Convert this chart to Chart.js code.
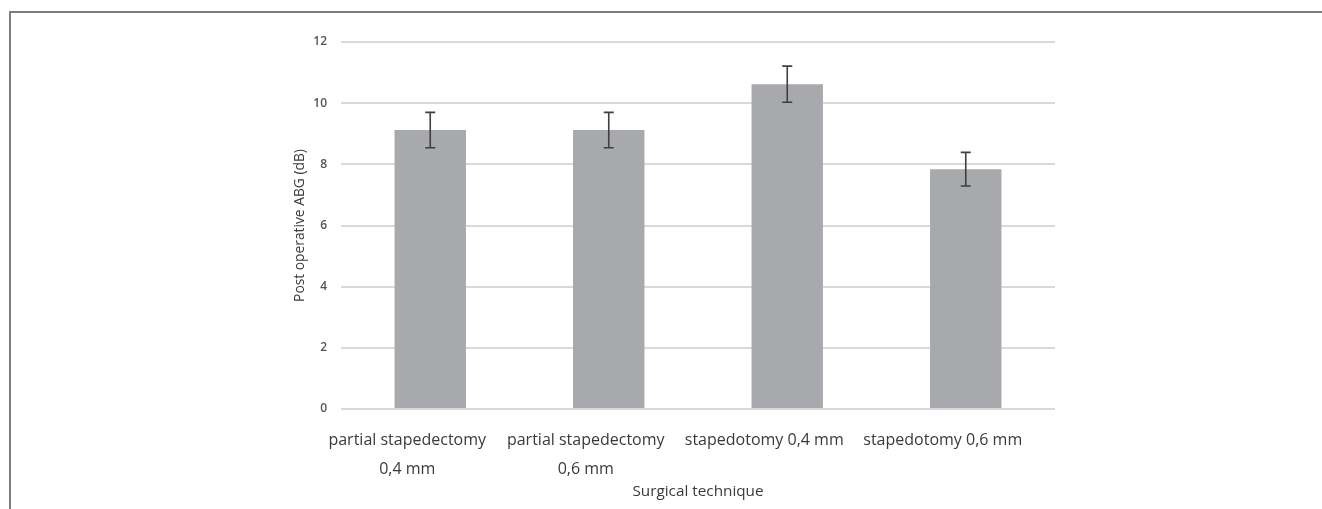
<!DOCTYPE html>
<html>
<head>
<meta charset="utf-8">
<script src="https://cdn.jsdelivr.net/npm/chart.js@4.4.0/dist/chart.umd.min.js"></script>
<style>
  html, body { margin: 0; padding: 0; background: #fff; }
  #wrap { position: relative; width: 1322px; height: 509px; overflow: hidden; }
  #frame { position: absolute; left: 9px; top: 11px; right: -5px; bottom: -5px;
           border-top: 2px solid #7d7d7d; border-left: 2px solid #7d7d7d; }
  canvas { position: absolute; left: 0; top: 0; }
</style>
</head>
<body>
<div id="wrap">
  <div id="frame"></div>
  <canvas id="abg" width="1322" height="509"></canvas>
</div>
<script>
// categorias (eixo x)
var techniques = [
    ['partial stapedectomy', '0,4 mm'],
    ['partial stapedectomy', '0,6 mm'],
    'stapedotomy 0,4 mm',
    'stapedotomy 0,6 mm'
];
// media do ABG pos-operatorio (dB)
var abg_mean = [9.12, 9.12, 10.62, 7.84];
// desvio (barra de erro)
var abg_err = [0.58, 0.58, 0.59, 0.55];
// eixo y
var y_min = 0, y_max = 12, y_step = 2;

// desenha as barras de erro
var errorBars = {
    id: 'errorBars',
    afterDatasetsDraw: function (chart) {
        var ctx = chart.ctx;
        var meta = chart.getDatasetMeta(0);
        var yScale = chart.scales.y;
        ctx.save();
        ctx.strokeStyle = '#3f3f3f';
        ctx.lineWidth = 1.6;
        meta.data.forEach(function (bar, i) {
            var x = bar.x;
            var yTop = yScale.getPixelForValue(abg_mean[i] + abg_err[i]);
            var yBot = yScale.getPixelForValue(abg_mean[i] - abg_err[i]);
            ctx.beginPath();
            ctx.moveTo(x, yTop); ctx.lineTo(x, yBot);
            ctx.moveTo(x - 5, yTop); ctx.lineTo(x + 5, yTop);
            ctx.moveTo(x - 5, yBot); ctx.lineTo(x + 5, yBot);
            ctx.stroke();
        });
        ctx.restore();
    }
};

var rel = new Chart(document.getElementById('abg'), {
    type: 'bar',
    data: {
        labels: techniques,
        datasets: [{
            data: abg_mean,
            backgroundColor: '#a8a9ac',
            borderWidth: 0,
            barPercentage: 0.4,
            categoryPercentage: 1.0
        }]
    },
    options: {
        responsive: false,
        animation: false,
        layout: { padding: { left: 292, right: 267, top: 42, bottom: 8 } },
        plugins: {
            legend: { display: false },
            tooltip: { enabled: false }
        },
        scales: {
            x: {
                grid: { display: false },
                border: { display: false },
                ticks: {
                    color: '#3a3a3a',
                    padding: 9.5,
                    labelOffset: -23,
                    maxRotation: 0,
                    autoSkip: false,
                    font: { family: 'Open Sans', size: 16, lineHeight: 1.77 }
                },
                title: {
                    display: true,
                    text: 'Surgical technique',
                    color: '#3a3a3a',
                    padding: 0,
                    font: { family: 'Open Sans', size: 15.3, lineHeight: 1.2 }
                },
                afterFit: function (scale) { scale.height = 92; }
            },
            y: {
                min: y_min,
                max: y_max,
                grid: { color: '#d9d9d9', lineWidth: 2, drawTicks: false },
                border: { display: false },
                ticks: {
                    stepSize: y_step,
                    color: '#555555',
                    padding: 14,
                    font: { family: 'Open Sans', size: 12, weight: '600' }
                },
                title: {
                    display: true,
                    text: 'Post operative ABG (dB)',
                    color: '#3a3a3a',
                    padding: 0,
                    font: { family: 'Open Sans', size: 13.8, lineHeight: 1.2 }
                },
                afterFit: function (scale) { scale.width = 49; }
            }
        }
    },
    plugins: [errorBars]
});
</script>
</body>
</html>
